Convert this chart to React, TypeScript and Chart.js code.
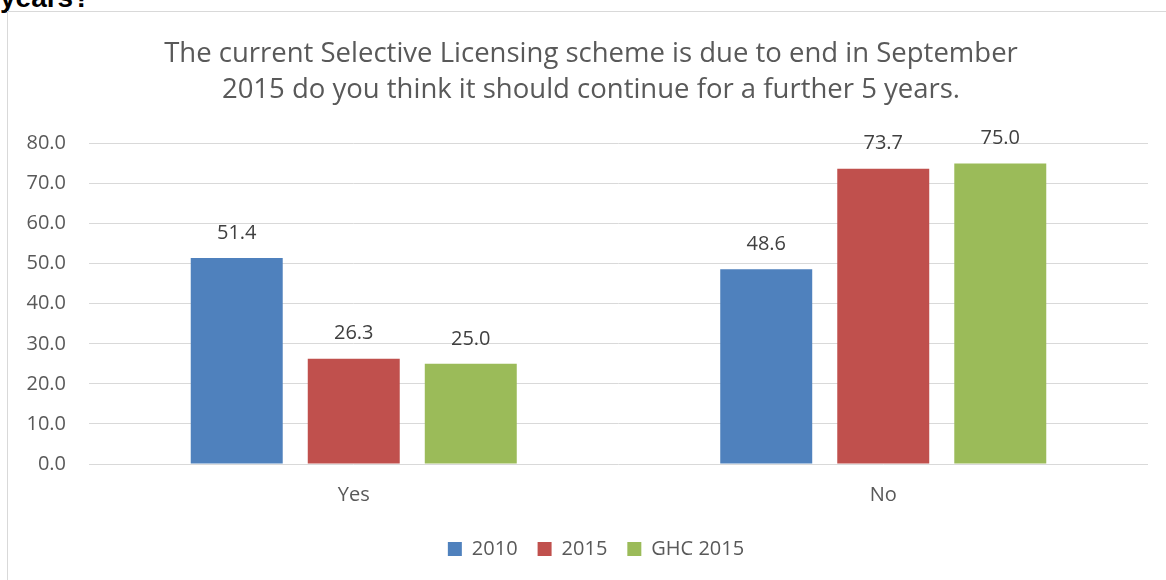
import React, { useEffect, useRef } from "react";
import { Chart, registerables } from "chart.js";

Chart.register(...registerables);

const categories = ["Yes", "No"];
const seriesNames = ["2010", "2015", "GHC 2015"];
const values2010 = [51.4, 48.6];
const values2015 = [26.3, 73.7];
const valuesGHC2015 = [25.0, 75.0];
const seriesColors = ["#4F81BD", "#C0504D", "#9BBB59"];
const titleLines = [
  "The current Selective Licensing scheme is due to end in September",
  "2015 do you think it should continue for a further 5 years.",
];
const headingFragment = "years?";
const yMin = 0;
const yMax = 80;
const yStep = 10;

const FONT = "'Open Sans', 'Noto Sans', sans-serif";

const valueLabelPlugin = {
  id: "valueLabels",
  afterDatasetsDraw(chart: any) {
    const ctx = chart.ctx;
    ctx.save();
    ctx.font = `20px ${FONT}`;
    ctx.fillStyle = "#404040";
    ctx.textAlign = "center";
    ctx.textBaseline = "middle";
    chart.data.datasets.forEach((ds: any, i: number) => {
      const meta = chart.getDatasetMeta(i);
      meta.data.forEach((el: any, j: number) => {
        const v = ds.data[j];
        ctx.fillText(Number(v).toFixed(1), el.x, el.y - 25);
      });
    });
    ctx.restore();
  },
};

const boxAlignPlugin = {
  id: "boxAlign",
  afterLayout(chart: any) {
    const right = chart.chartArea.right;
    const t = chart.titleBlock;
    if (t) {
      t.left = 34;
      t.right = right;
      t.width = right - 34;
    }
    const l = chart.legend;
    if (l) {
      l.left = 44;
      l.right = right;
      l.width = right - 44;
    }
  },
};

export default function App() {
  const ref = useRef<HTMLCanvasElement | null>(null);

  useEffect(() => {
    if (!ref.current) return;
    const seriesValues = [values2010, values2015, valuesGHC2015];
    const chart = new Chart(ref.current, {
      type: "bar",
      data: {
        labels: categories,
        datasets: seriesNames.map((name, i) => ({
          label: name,
          data: seriesValues[i],
          backgroundColor: seriesColors[i],
          borderWidth: 0,
          barPercentage: 0.786,
          categoryPercentage: 0.663,
        })),
      },
      options: {
        animation: false,
        responsive: false,
        layout: { padding: { left: 0, right: 18, top: 0, bottom: 11 } },
        plugins: {
          tooltip: { enabled: false },
          title: {
            display: true,
            text: titleLines,
            color: "#595959",
            font: { family: FONT, size: 27.5, weight: "normal", lineHeight: 1.309 },
            padding: { top: 36.5, bottom: 35 },
          },
          legend: {
            display: true,
            position: "bottom",
            labels: {
              color: "#595959",
              font: { family: FONT, size: 20 },
              boxWidth: 14,
              boxHeight: 14,
              padding: 20,
            },
          },
        },
        scales: {
          x: {
            grid: { display: false, drawTicks: false },
            border: { display: false },
            afterFit(scale: any) {
              scale.height = 55;
            },
            ticks: {
              color: "#595959",
              font: { family: FONT, size: 20 },
              padding: 19,
            },
          },
          y: {
            min: yMin,
            max: yMax,
            afterFit(scale: any) {
              scale.width = 89;
            },
            grid: { color: "#D9D9D9", lineWidth: 1, drawTicks: false },
            border: { display: false },
            ticks: {
              stepSize: yStep,
              color: "#595959",
              font: { family: FONT, size: 20 },
              padding: 23,
              callback: (v: any) => Number(v).toFixed(1),
            },
          },
        },
      },
      plugins: [valueLabelPlugin, boxAlignPlugin],
    });
    return () => chart.destroy();
  }, []);

  return (
    <div style={{ position: "fixed", left: 0, top: 0, width: 1166, height: 580, background: "#fff", overflow: "hidden" }}>
      <div
        style={{
          position: "absolute",
          left: 0,
          top: -16,
          font: "bold 28px 'Liberation Sans', Arial, sans-serif",
          lineHeight: "28px",
          color: "#000",
          whiteSpace: "nowrap",
        }}
      >
        {headingFragment}
      </div>
      <div
        style={{
          position: "absolute",
          left: 7,
          top: 11,
          width: 1200,
          height: 600,
          borderLeft: "1px solid #D9D9D9",
          borderTop: "1px solid #D9D9D9",
        }}
      />
      <canvas ref={ref} width={1166} height={580} style={{ position: "absolute", left: 0, top: 0, width: 1166, height: 580 }} />
    </div>
  );
}
